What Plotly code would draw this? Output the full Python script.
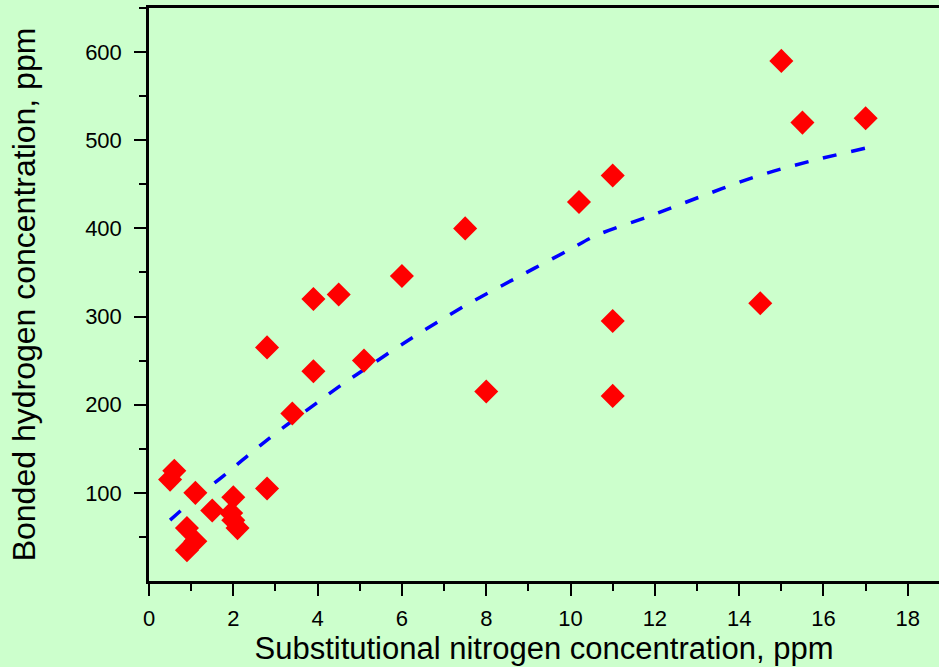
import plotly.graph_objects as go

# Measured samples: substitutional N vs bonded H (ppm)
n_ppm = [0.5, 0.6, 1.1, 0.9, 0.9, 1.1, 1.5, 2.0, 1.95, 2.0, 2.1,
         2.8, 2.8, 3.4, 3.9, 3.9, 4.5, 5.1, 6.0, 7.5, 8.0,
         10.2, 11.0, 11.0, 11.0, 14.5, 15.0, 15.5, 17.0]
h_ppm = [115, 125, 100, 60, 35, 45, 80, 95, 77, 69, 60,
         105, 265, 190, 238, 320, 325, 250, 346, 400, 215,
         430, 460, 295, 210, 315, 590, 520, 525]

# Trend curve through the data
fit_n = [0.5, 1.12, 1.76, 2.39, 3.02, 3.95, 4.58, 4.92, 6.18, 7.45,
         8.72, 9.98, 10.61, 11.88, 13.14, 14.41, 15.67, 17.0]
fit_h = [69, 95, 119, 144, 168, 201, 223, 234, 274, 311,
         344, 376, 392, 414, 437, 459, 476, 491]

x_ticks = [0, 2, 4, 6, 8, 10, 12, 14, 16, 18]
x_minor = [1, 3, 5, 7, 9, 11, 13, 15, 17]
y_ticks = [100, 200, 300, 400, 500, 600]
y_minor = [50, 150, 250, 350, 450, 550, 650]

BG = "#ccffcc"
FONT = "Liberation Sans, Arial, sans-serif"

fig = go.Figure()
fig.add_trace(go.Scatter(
    x=fit_n, y=fit_h, mode="lines", line_shape="spline",
    line=dict(color="#0000ff", width=3.5, dash="14px,15px"),
    hoverinfo="skip", showlegend=False))
fig.add_trace(go.Scatter(
    x=n_ppm, y=h_ppm, mode="markers",
    marker=dict(symbol="diamond", size=18.5, color="#ff0000",
                line=dict(width=0)),
    showlegend=False))

axis_common = dict(
    showgrid=False, zeroline=False, showline=True, linecolor="black",
    linewidth=2.5, ticks="outside", ticklen=12, tickwidth=2,
    tickcolor="black", tickfont=dict(family=FONT, size=22, color="black"),
)

fig.update_xaxes(
    **axis_common, range=[0, 18.74], tickvals=x_ticks, mirror=True,
    ticklabelstandoff=4,
    minor=dict(tickvals=x_minor, ticks="outside", ticklen=7,
               tickwidth=2, tickcolor="black"),
    title=dict(text="Substitutional nitrogen concentration, ppm",
               font=dict(family=FONT, size=31, color="black"), standoff=8),
)
fig.update_yaxes(
    **axis_common, range=[0, 650], tickvals=y_ticks,
    ticklabelstandoff=8,
    minor=dict(tickvals=y_minor, ticks="outside", ticklen=7,
               tickwidth=2, tickcolor="black"),
    title=dict(text="Bonded hydrogen concentration, ppm",
               font=dict(family=FONT, size=32, color="black"), standoff=40),
)

fig.update_layout(
    width=939, height=667,
    paper_bgcolor=BG, plot_bgcolor=BG,
    margin=dict(l=149, r=0, t=8, b=86),
    font=dict(family=FONT, color="black"),
)

fig.write_html("out.html")
